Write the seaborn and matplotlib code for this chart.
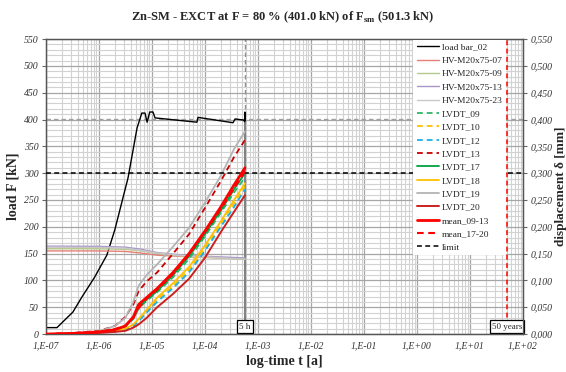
import numpy as np
import matplotlib
matplotlib.use("Agg")
import matplotlib.pyplot as plt
from matplotlib.ticker import FuncFormatter, MultipleLocator, FixedLocator, NullFormatter
import seaborn as sns

sns.set_style("white")
plt.rcParams['font.family'] = ['Liberation Serif', 'DejaVu Serif']
plt.rcParams['mathtext.fontset'] = 'custom'
plt.rcParams['mathtext.rm'] = 'Liberation Serif'
plt.rcParams['mathtext.bf'] = 'Liberation Serif:bold'

# ---------------- data (time as log10 of years) ----------------
load_logt = [-7.0, -6.79, -6.49, -6.32, -6.08, -5.85, -5.70, -5.45, -5.28, -5.19, -5.13,
             -5.09, -5.04, -4.98, -4.94, -4.15, -4.13, -3.47, -3.43, -3.27, -3.25, -3.245, -3.243]
load_kN = [12, 12, 41, 69, 106, 147, 194, 291, 384, 412, 412,
           395, 414, 414, 403, 395, 404, 394, 401, 399, 396, 414, 398]

hv_logt = [-7.0, -6.0, -5.5, -5.2, -4.9, -4.5, -4.0, -3.5, -3.243]
hv07 = [155, 155, 154, 151, 147, 145, 143, 141, 140]
hv09 = [159, 159, 158, 155, 150, 146, 143, 141, 139]
hv13 = [164, 163.5, 162, 158, 152, 148, 145, 143, 142]
hv23 = [162, 161.5, 160, 156, 151, 147, 144, 141, 140]

lv_logt = [-7.0, -6.5, -6.0, -5.7, -5.5, -5.35, -5.25, -5.1, -4.9, -4.6, -4.3, -4.0, -3.7, -3.45, -3.243]
lvdt_09 = [0.000, 0.001, 0.004, 0.008, 0.014, 0.028, 0.047, 0.062, 0.078, 0.106, 0.140, 0.182, 0.226, 0.264, 0.292]
lvdt_10 = [0.000, 0.001, 0.003, 0.006, 0.009, 0.016, 0.026, 0.043, 0.064, 0.090, 0.120, 0.160, 0.205, 0.244, 0.275]
lvdt_12 = [0.000, 0.001, 0.003, 0.005, 0.008, 0.015, 0.024, 0.040, 0.060, 0.086, 0.115, 0.155, 0.200, 0.237, 0.270]
lvdt_13 = [0.000, 0.002, 0.006, 0.015, 0.032, 0.055, 0.080, 0.098, 0.115, 0.150, 0.186, 0.235, 0.285, 0.330, 0.362]
lvdt_17 = [0.000, 0.001, 0.004, 0.008, 0.015, 0.030, 0.050, 0.064, 0.080, 0.110, 0.145, 0.186, 0.230, 0.270, 0.300]
lvdt_18 = [0.000, 0.001, 0.003, 0.006, 0.010, 0.018, 0.028, 0.045, 0.068, 0.095, 0.125, 0.165, 0.210, 0.250, 0.281]
lvdt_19 = [0.000, 0.001, 0.005, 0.015, 0.030, 0.060, 0.090, 0.110, 0.130, 0.163, 0.198, 0.245, 0.295, 0.345, 0.378]
lvdt_20 = [0.000, 0.001, 0.002, 0.004, 0.006, 0.012, 0.018, 0.030, 0.050, 0.075, 0.103, 0.142, 0.190, 0.228, 0.259]
mean_09_13 = [0.000, 0.001, 0.004, 0.008, 0.015, 0.032, 0.055, 0.068, 0.085, 0.115, 0.150, 0.192, 0.237, 0.278, 0.310]
mean_17_20 = [0.000, 0.001, 0.004, 0.009, 0.016, 0.030, 0.048, 0.066, 0.083, 0.112, 0.148, 0.190, 0.233, 0.272, 0.303]

decades = [-7, -6, -5, -4, -3, -2, -1, 0, 1, 2]
t_5h = 5.0 / (365 * 24)
t_50y = 50.0
limit_mm = 0.300
load_level = 401.0

# ---------------- figure ----------------
fig = plt.figure(figsize=(5.66, 3.72), dpi=100)
ax = fig.add_axes([0.081, 0.102, 0.843, 0.793])
ax2 = ax.twinx()

ax.set_xscale('log')
ax.set_xlim(1e-7, 1e2)
ax.set_ylim(0, 550)
ax2.set_ylim(0, 0.55)

def tt(lst):
    return 10 ** np.asarray(lst, dtype=float)

dash = (0, (3.2, 2.2))

# reference lines
ax.axhline(load_level, color='#a0a0a0', lw=1.0, ls=dash, zorder=1)
ax.axvline(t_5h, color='#909090', lw=1.0, ls=dash, zorder=1)
ax.plot([t_5h, t_5h], [0, 398], color='#808080', lw=1.4, zorder=1)
ax.axvline(t_50y, color='#ff0000', lw=1.1, ls=dash, zorder=3)

handles = []
def line(axis, x, y, label, color, lw=1.0, ls='-', z=2):
    sns.lineplot(x=x, y=y, ax=axis, color=color, lw=lw, linestyle=ls,
                 sort=False, estimator=None, zorder=z, legend=False)
    h = axis.lines[-1]
    h.set_label(label)
    handles.append(h)

line(ax, tt(load_logt), load_kN, 'load bar_02', 'black', 1.0)
line(ax, tt(hv_logt), hv07, 'HV-M20x75-07', '#e57f78', 1.0)
line(ax, tt(hv_logt), hv09, 'HV-M20x75-09', '#b5c98a', 1.0)
line(ax, tt(hv_logt), hv13, 'HV-M20x75-13', '#a996c9', 1.0)
line(ax, tt(hv_logt), hv23, 'HV-M20x75-23', '#c8c8c8', 1.0)

line(ax2, tt(lv_logt), lvdt_09, 'LVDT_09', '#2fb56a', 1.3, dash)
line(ax2, tt(lv_logt), lvdt_10, 'LVDT_10', '#ffc000', 1.3, dash)
line(ax2, tt(lv_logt), lvdt_12, 'LVDT_12', '#1ab0ea', 1.3, dash)
line(ax2, tt(lv_logt), lvdt_13, 'LVDT_13', '#cc0000', 1.3, dash)
line(ax2, tt(lv_logt), lvdt_17, 'LVDT_17', '#00a040', 1.3)
line(ax2, tt(lv_logt), lvdt_18, 'LVDT_18', '#ffc000', 1.3)
line(ax2, tt(lv_logt), lvdt_19, 'LVDT_19', '#b4b4b4', 1.3)
line(ax2, tt(lv_logt), lvdt_20, 'LVDT_20', '#cc2020', 1.4)
line(ax2, tt(lv_logt), mean_09_13, 'mean_09-13', '#ff0000', 2.0, '-', 4)
line(ax2, tt(lv_logt), mean_17_20, 'mean_17-20', '#ff0000', 1.5, dash, 4)
hl = ax2.axhline(limit_mm, color='black', lw=1.1, ls=dash, zorder=3, label='limit')
handles.append(hl)

# grid / ticks
major_x = [10.0 ** d for d in decades]
minor_x = [m * 10.0 ** d for d in decades[:-1] for m in range(2, 10)]
ax.xaxis.set_major_locator(FixedLocator(major_x))
ax.xaxis.set_minor_locator(FixedLocator(minor_x))
ax.xaxis.set_minor_formatter(NullFormatter())
ax.yaxis.set_major_locator(MultipleLocator(50))
ax.yaxis.set_minor_locator(MultipleLocator(10))
ax2.yaxis.set_major_locator(MultipleLocator(0.05))
ax.grid(which='major', color='#a6a6a6', lw=0.9, zorder=0)
ax.grid(which='minor', color='#d2d2d2', lw=0.8, zorder=0)
ax.set_axisbelow(True)

ax.xaxis.set_major_formatter(FuncFormatter(lambda v, p: "1,E%+03d" % int(round(np.log10(v)))))
ax.yaxis.set_major_formatter(FuncFormatter(lambda v, p: "%d" % v))
ax2.yaxis.set_major_formatter(FuncFormatter(lambda v, p: ("%.3f" % v).replace('.', ',')))

for a in (ax, ax2):
    a.tick_params(which='major', length=3, width=0.8, color='#666666', labelsize=7,
                  labelcolor='#333333', pad=2.5)
    a.tick_params(which='minor', length=0)
    for s in a.spines.values():
        s.set_color('#555555')
        s.set_linewidth(0.9)
for lab in ax.get_xticklabels() + ax.get_yticklabels() + ax2.get_yticklabels():
    lab.set_fontstyle('italic')

ax.set_xlabel('log-time t [a]', fontsize=10, fontweight='bold', labelpad=3)
ax.set_ylabel('load F [kN]', fontsize=10, fontweight='bold', labelpad=3)
ax2.set_ylabel('displacement δ [mm]', fontsize=9.5, fontweight='bold', labelpad=2)
fig.suptitle(r'Zn-SM - EXCT at F = 80 % (401.0 kN) of F$_{\mathbf{sm}}$ (501.3 kN)',
             fontsize=9, fontweight='bold', y=0.975)

# annotation boxes
bbox = dict(boxstyle='square,pad=0.25', fc='white', ec='black', lw=0.9)
ax.text(t_5h, 14, '5 h', ha='center', va='center', fontsize=6.5, bbox=bbox, zorder=6)
ax.text(t_50y, 14, '50 years', ha='center', va='center', fontsize=6.5, bbox=bbox, zorder=6)

leg = ax2.legend(handles=handles, loc='upper right', bbox_to_anchor=(0.965, 0.998),
                 fontsize=6.8, frameon=True, fancybox=False, handlelength=2.4,
                 handletextpad=0.3, labelspacing=0.5, borderpad=0.35, borderaxespad=0.0)
leg.get_frame().set_facecolor('white')
leg.get_frame().set_edgecolor('none')
leg.get_frame().set_alpha(1.0)
leg.set_zorder(10)

fig.savefig('out.png', dpi=100)
